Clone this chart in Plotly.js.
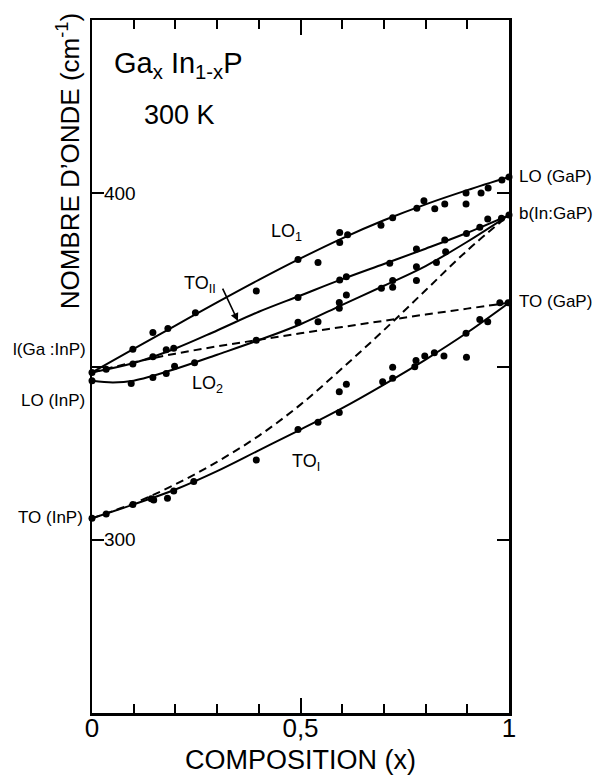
<!DOCTYPE html>
<html>
<head>
<meta charset="utf-8">
<script src="https://cdn.plot.ly/plotly-3.0.1.min.js"></script>
<style>html,body{margin:0;padding:0;background:#fff}</style>
</head>
<body>
<div id="chart" style="width:607px;height:775px"></div>
<script>
// ---- fitted curves ----
var curveX = [0, 0.1, 0.2, 0.3, 0.4, 0.5, 0.6, 0.7, 0.8, 0.9, 1.0];
var LO1_curve  = [348.3, 355.1, 361.8, 368.5, 375.0, 381.2, 387.0, 392.2, 396.8, 400.9, 404.7];
var TOII_curve = [348.3, 351.0, 355.2, 360.4, 365.8, 370.5, 375.2, 379.6, 384.0, 388.6, 393.7];
var TOI_curve  = [306.2, 310.2, 314.5, 319.8, 325.8, 331.8, 338.0, 344.8, 352.0, 359.8, 368.4];
var dash1_curve = [348.3, 351.2, 353.7, 355.8, 357.7, 359.6, 361.4, 363.2, 365.0, 366.7, 368.4];
var dash2_curve = [306.2, 310.5, 316.0, 322.5, 330.0, 339.0, 349.5, 360.5, 372.0, 383.5, 393.7];
var LO2_curveX = [0, 0.05, 0.1, 0.2, 0.3, 0.4, 0.5, 0.6, 0.7, 0.8, 0.9, 1.0];
var LO2_curve  = [345.9, 345.4, 345.9, 349.3, 353.4, 357.6, 362.2, 367.8, 373.3, 379.0, 386.0, 393.7];

// ---- measured points ----
var LO1_x = [0.098, 0.146, 0.182, 0.248, 0.394, 0.494, 0.542, 0.594, 0.594, 0.613, 0.693, 0.721, 0.779, 0.796, 0.822, 0.846, 0.897, 0.897, 0.933, 0.950, 0.983, 1.0];
var LO1_y = [355.0, 359.8, 361.0, 365.5, 371.8, 380.9, 380.0, 388.7, 385.8, 388.0, 390.8, 392.9, 395.7, 397.8, 395.5, 396.9, 400.1, 396.9, 400.1, 401.5, 403.8, 404.7];
var TOII_x = [0.0, 0.034, 0.098, 0.146, 0.178, 0.196, 0.494, 0.594, 0.610, 0.714, 0.778, 0.846, 0.898, 0.930, 0.949, 0.982, 1.0];
var TOII_y = [348.3, 349.2, 350.7, 352.8, 354.8, 355.3, 369.9, 375.0, 375.9, 379.8, 383.9, 386.5, 388.4, 390.2, 392.6, 392.8, 393.7];
var LO2_x = [0.0, 0.094, 0.146, 0.178, 0.198, 0.246, 0.394, 0.494, 0.542, 0.593, 0.593, 0.610, 0.694, 0.721, 0.721, 0.778, 0.778, 0.826, 0.848];
var LO2_y = [345.9, 345.1, 346.8, 348.0, 350.1, 351.1, 357.6, 362.8, 362.9, 366.8, 368.5, 370.6, 372.6, 374.8, 372.9, 378.8, 374.8, 380.0, 383.1];
var TOI_x = [0.0, 0.034, 0.098, 0.142, 0.148, 0.181, 0.196, 0.244, 0.394, 0.494, 0.542, 0.593, 0.593, 0.610, 0.697, 0.721, 0.721, 0.774, 0.777, 0.798, 0.821, 0.844, 0.898, 0.897, 0.930, 0.949, 0.978, 0.998];
var TOI_y = [306.2, 307.4, 310.2, 311.8, 311.5, 312.0, 314.1, 316.8, 323.0, 331.8, 333.9, 336.7, 342.7, 344.9, 345.6, 346.6, 349.8, 349.9, 351.7, 353.0, 354.0, 353.0, 352.7, 359.6, 363.6, 362.9, 368.4, 368.4];

// ---- axis ticks ----
var xTickVals = [0, 0.5, 1];
var xTickText = ['0', '0,5', '1'];
var yTickVals = [300, 350, 400];
var yTickText = ['300', '', '400'];

var FONT = 'Liberation Sans, Arial, sans-serif';

function curve(x, y, dashed) {
  return {x: x, y: y, type: 'scatter', mode: 'lines', hoverinfo: 'skip',
    line: {color: '#000', width: 2, shape: 'spline', smoothing: 1, dash: dashed ? '8px,5px' : 'solid'},
    cliponaxis: false, showlegend: false};
}
function pts(x, y) {
  return {x: x, y: y, type: 'scatter', mode: 'markers',
    marker: {color: '#000', size: 7}, cliponaxis: false, showlegend: false};
}

var data = [
  curve(curveX, dash1_curve, true),
  curve(curveX, dash2_curve, true),
  curve(curveX, LO1_curve, false),
  curve(curveX, TOII_curve, false),
  curve(LO2_curveX, LO2_curve, false),
  curve(curveX, TOI_curve, false),
  pts(LO1_x, LO1_y), pts(TOII_x, TOII_y), pts(LO2_x, LO2_y), pts(TOI_x, TOI_y)
];

function lab(text, x, y, size, opts) {
  var a = {text: text, x: x, y: y, xref: 'x', yref: 'y', showarrow: false,
    font: {family: FONT, size: size || 18, color: '#000'}, xanchor: 'center', yanchor: 'middle'};
  for (var k in (opts || {})) a[k] = opts[k];
  return a;
}
function arrow(x, y, ax, ay, head, size) {
  return {text: '', x: x, y: y, xref: 'x', yref: 'y', ax: ax, ay: ay, showarrow: true,
    arrowhead: head || 2, arrowsize: size || 1, arrowwidth: 1.6, arrowcolor: '#000', standoff: 0};
}

var annotations = [
  {text: 'NOMBRE D’ONDE (cm<sup>-1</sup>)', xref: 'paper', yref: 'paper', x: -0.0576, y: 0.796,
   textangle: -90, showarrow: false, xanchor: 'center', yanchor: 'middle',
   font: {family: FONT, size: 26, color: '#000'}},
  {text: 'Ga<sub>x</sub> In<sub>1-x</sub>P', xref: 'paper', yref: 'paper', x: 0.048, y: 0.935,
   showarrow: false, xanchor: 'left', yanchor: 'middle', font: {family: FONT, size: 29, color: '#000'}},
  {text: '300 K', xref: 'paper', yref: 'paper', x: 0.211, y: 0.863,
   showarrow: false, xanchor: 'center', yanchor: 'middle', font: {family: FONT, size: 27, color: '#000'}},
  lab('LO<sub>1</sub>', 0.467, 388.8),
  lab('TO<sub>II</sub>', 0.259, 373.8),
  lab('LO<sub>2</sub>', 0.276, 344.7),
  lab('TO<sub>I</sub>', 0.513, 322.4),
  lab('LO (GaP)', 1, 404.7, 17, {xref: 'paper', xanchor: 'left', xshift: 8}),
  lab('b(In:GaP)', 1, 394.3, 17, {xref: 'paper', xanchor: 'left', xshift: 8}),
  lab('TO (GaP)', 1, 368.9, 17, {xref: 'paper', xanchor: 'left', xshift: 8}),
  lab('l(Ga :InP)', 0, 355.0, 17, {xref: 'paper', xanchor: 'right', xshift: -4}),
  lab('LO (InP)', 0, 340.3, 17, {xref: 'paper', xanchor: 'right', xshift: -5}),
  lab('TO (InP)', 0, 306.3, 17, {xref: 'paper', xanchor: 'right', xshift: -7}),
  arrow(-0.0072, 349.3, -11, -12),
  arrow(-0.0096, 346.4, -10, 6),
  arrow(0.350, 363.1, -16, -34),
  arrow(0.739, 364.6, 5, -1, 5, 1.2)
];

var layout = {
  width: 607, height: 775,
  margin: {l: 92, r: 98, t: 20, b: 62, pad: 0},
  paper_bgcolor: '#fff', plot_bgcolor: '#fff',
  font: {family: FONT, color: '#000'},
  showlegend: false,
  xaxis: {
    range: [0, 1], showgrid: false, zeroline: false,
    showline: true, linecolor: '#000', linewidth: 2.5, mirror: 'ticks',
    ticks: 'inside', ticklen: 15, tickwidth: 2, tickcolor: '#000',
    tickvals: xTickVals, ticktext: xTickText, ticklabelstandoff: -10,
    tickfont: {family: FONT, size: 26, color: '#000'},
    minor: {dtick: 0.1, tick0: 0, ticks: 'inside', ticklen: 9, tickwidth: 2, tickcolor: '#000', showgrid: false},
    title: {text: 'COMPOSITION (x)', font: {family: FONT, size: 27, color: '#000'}, standoff: 12},
    fixedrange: true
  },
  yaxis: {
    range: [250, 450], showgrid: false, zeroline: false,
    showline: true, linecolor: '#000', linewidth: 2.5, mirror: 'ticks',
    ticks: 'inside', ticklen: 12, tickwidth: 2, tickcolor: '#000',
    tickvals: yTickVals, ticktext: yTickText, ticklabelstandoff: -50,
    tickfont: {family: FONT, size: 19, color: '#000'},
    fixedrange: true
  },
  annotations: annotations
};

Plotly.newPlot('chart', data, layout, {staticPlot: true, displayModeBar: false});
</script>
</body>
</html>
